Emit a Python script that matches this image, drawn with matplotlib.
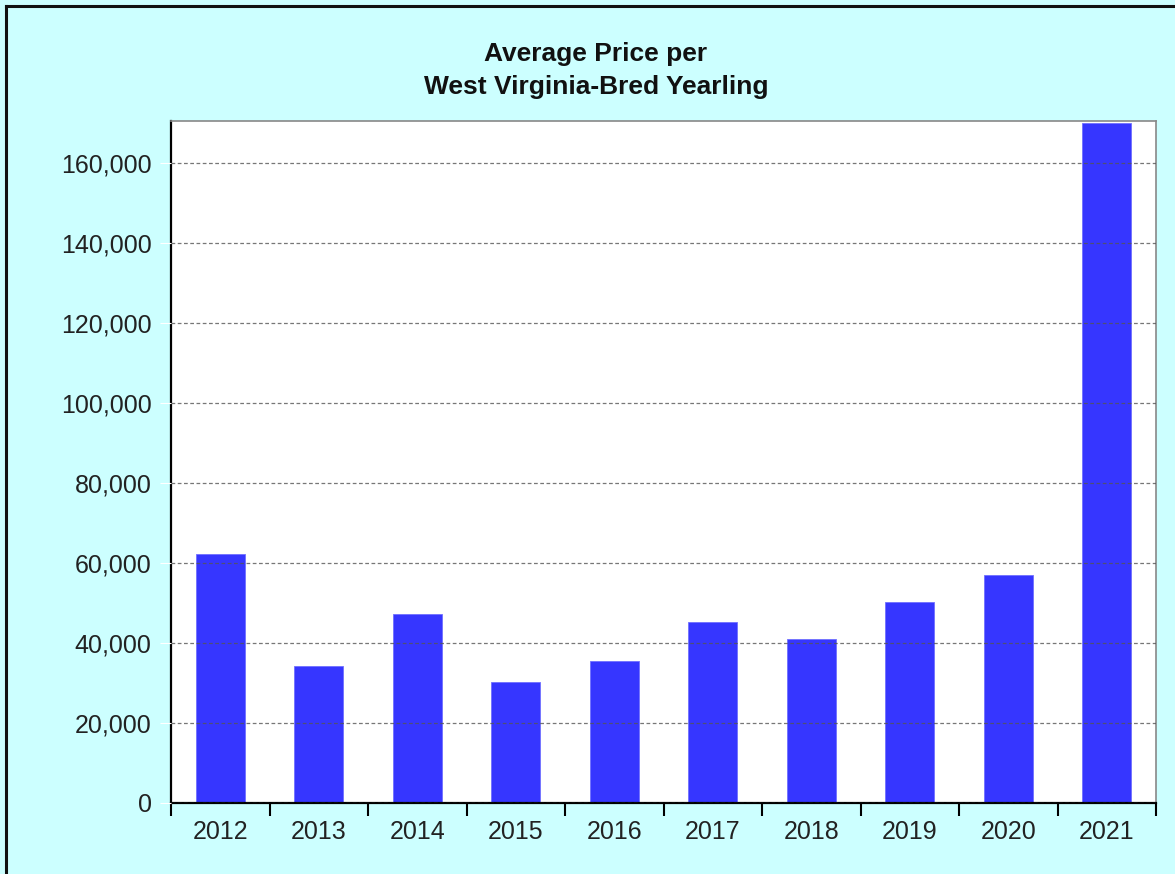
"""Average price per West Virginia-bred yearling, 2012-2021."""
import matplotlib
matplotlib.use("Agg")
import matplotlib.pyplot as plt
from matplotlib.lines import Line2D
from matplotlib.ticker import FuncFormatter, MultipleLocator
import numpy as np

years = ["2012", "2013", "2014", "2015", "2016", "2017", "2018", "2019", "2020", "2021"]
avg_price = [62200, 34300, 47200, 30200, 35400, 45200, 41000, 50200, 57000, 170000]

BG = "#ccffff"
BAR = "#3636ff"

plt.rcParams["font.family"] = ["Liberation Sans", "DejaVu Sans"]

fig = plt.figure(figsize=(11.75, 8.74), dpi=100, facecolor=BG)
ax = fig.add_axes([171 / 1175, 1 - 803 / 874, 985 / 1175, 682 / 874])
ax.set_facecolor("white")

x = np.arange(len(years))
ax.bar(x, avg_price, width=0.5, color=BAR, edgecolor="#7070ff", linewidth=0.6, zorder=2)

ax.set_xlim(-0.5, len(years) - 0.5)
ax.set_ylim(0, 170500)
ax.yaxis.set_major_locator(MultipleLocator(20000))
ax.yaxis.set_major_formatter(FuncFormatter(lambda v, _: f"{int(v):,}"))
ax.grid(True, axis="y", color="#555555", linestyle=(0, (3, 2)), linewidth=0.9,
        alpha=0.8, zorder=3)
ax.set_axisbelow(False)

ax.set_xticks(x)
ax.set_xticklabels(years)
ax.set_xticks(np.arange(-0.5, len(years)), minor=True)
ax.tick_params(axis="x", which="major", length=0, pad=12, labelsize=18, colors="#222222")
ax.tick_params(axis="x", which="minor", length=9, width=1.5, direction="out", color="black")
ax.tick_params(axis="y", length=8, color="white", pad=6, labelsize=18, labelcolor="#222222")

for side in ("left", "bottom"):
    ax.spines[side].set_color("black")
    ax.spines[side].set_linewidth(1.6)
for side in ("top", "right"):
    ax.spines[side].set_color("#888888")
    ax.spines[side].set_linewidth(1.2)

fig.text(596 / 1175, 1 - 61 / 874, "Average Price per", ha="center", va="baseline",
         fontsize=19, fontweight="bold", color="#111111")
fig.text(596 / 1175, 1 - 94 / 874, "West Virginia-Bred Yearling", ha="center",
         va="baseline", fontsize=19, fontweight="bold", color="#111111")

# outer frame: only left and top edges are visible in the original
fig.add_artist(Line2D([6 / 1175, 6 / 1175], [0, 1 - 6 / 874], color="#111111", linewidth=2.2))
fig.add_artist(Line2D([6 / 1175, 1], [1 - 6 / 874, 1 - 6 / 874], color="#111111", linewidth=2.2))

fig.savefig("out.png", dpi=100, facecolor=BG)
